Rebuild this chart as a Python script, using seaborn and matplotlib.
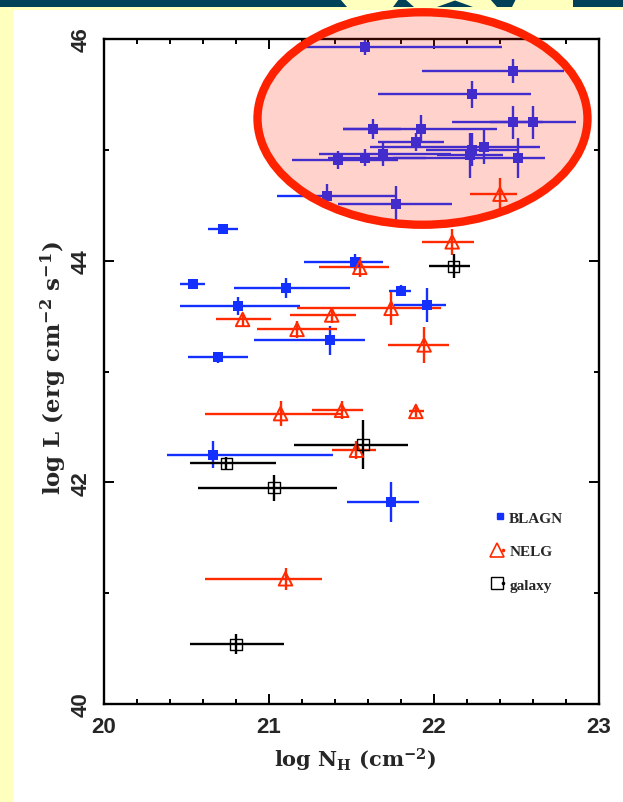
import numpy as np
import pandas as pd
import matplotlib
matplotlib.use("Agg")
import matplotlib.pyplot as plt
import seaborn as sns
from matplotlib.patches import Ellipse, Rectangle, Polygon
from matplotlib.lines import Line2D
from matplotlib.legend_handler import HandlerTuple
from matplotlib.ticker import MultipleLocator, FixedLocator

# ---------------- data ----------------
# BLAGN: log NH, lower/upper NH bounds, log L, error on log L
blagn_nh = [21.58, 22.48, 22.23, 21.63, 21.92, 22.48, 22.60, 21.89, 21.69, 21.42,
            21.58, 22.23, 22.30, 22.22, 22.51, 21.35, 21.77,
            20.72, 21.52, 20.54, 21.10, 20.81, 21.80, 21.96, 21.37, 20.69, 20.66, 21.74]
blagn_nh_lo = [21.21, 21.93, 21.66, 21.45, 21.45, 22.11, 22.34, 21.66, 21.30, 21.14,
               21.36, 21.95, 21.61, 22.02, 21.75, 21.05, 21.42,
               20.63, 21.21, 20.46, 20.79, 20.46, 21.73, 21.76, 20.91, 20.51, 20.38, 21.47]
blagn_nh_hi = [22.41, 22.79, 22.59, 21.80, 22.38, 22.66, 22.86, 22.06, 22.10, 21.78,
               21.95, 22.50, 22.64, 22.42, 22.67, 21.77, 22.11,
               20.81, 21.69, 20.61, 21.49, 21.19, 21.86, 22.07, 21.58, 20.87, 21.39, 21.91]
blagn_lum = [45.93, 45.71, 45.50, 45.19, 45.19, 45.25, 45.25, 45.07, 44.96, 44.91,
             44.93, 45.00, 45.03, 44.95, 44.93, 44.58, 44.51,
             44.29, 43.99, 43.79, 43.75, 43.59, 43.73, 43.60, 43.28, 43.13, 42.25, 41.82]
blagn_lum_err = [0.07, 0.11, 0.12, 0.09, 0.12, 0.15, 0.15, 0.08, 0.11, 0.08,
                 0.08, 0.15, 0.16, 0.20, 0.18, 0.11, 0.16,
                 0.04, 0.07, 0.03, 0.09, 0.08, 0.05, 0.15, 0.13, 0.05, 0.12, 0.18]

# NELG
nelg_nh = [22.40, 22.11, 21.55, 20.84, 21.38, 21.74, 21.17, 21.94, 21.07, 21.44, 21.89, 21.53, 21.10]
nelg_nh_lo = [22.22, 21.93, 21.30, 20.68, 21.13, 21.17, 20.93, 21.72, 20.61, 21.26, 21.85, 21.38, 20.61]
nelg_nh_hi = [22.50, 22.24, 21.73, 21.01, 21.53, 22.04, 21.41, 22.09, 21.45, 21.57, 21.94, 21.65, 21.32]
nelg_lum = [44.60, 44.17, 43.94, 43.47, 43.51, 43.57, 43.38, 43.24, 42.62, 42.65, 42.64, 42.29, 41.13]
nelg_lum_err = [0.15, 0.12, 0.09, 0.06, 0.07, 0.15, 0.08, 0.16, 0.11, 0.08, 0.05, 0.08, 0.10]

# galaxy
gal_nh = [22.12, 21.57, 20.74, 21.03, 20.80]
gal_nh_lo = [21.97, 21.15, 20.52, 20.57, 20.52]
gal_nh_hi = [22.22, 21.84, 21.04, 21.41, 21.09]
gal_lum = [43.95, 42.34, 42.17, 41.95, 40.54]
gal_lum_err = [0.11, 0.22, 0.06, 0.12, 0.09]

classes = ["BLAGN", "NELG", "galaxy"]
x_ticks = [20, 21, 22, 23]
y_ticks = [40, 42, 44, 46]

# ---------------- style ----------------
W, H = 623, 803
BLUE = "#1430FF"
RED = "#FF2A00"
ELL_RED = "#FF2200"
YELLOW = "#FFFFBE"
TEAL = "#004058"

sns.set_theme(style="ticks")
plt.rcParams["font.family"] = ["DejaVu Serif", "Liberation Serif"]
plt.rcParams["mathtext.fontset"] = "custom"
plt.rcParams["mathtext.rm"] = "DejaVu Serif:bold"
plt.rcParams["mathtext.it"] = "DejaVu Serif:bold"
plt.rcParams["mathtext.bf"] = "DejaVu Serif:bold"

fig = plt.figure(figsize=(W / 100, H / 100), dpi=100, facecolor=YELLOW)


def fx(px):
    return px / W


def fy(py):
    return 1 - py / H


# page decoration: white panel, teal banner with logo fragments
fig.add_artist(Rectangle((fx(13), 0), fx(W - 13), (H - 11) / H, transform=fig.transFigure,
                         facecolor="white", edgecolor="none", zorder=-10))
fig.add_artist(Rectangle((0, fy(8)), 1, 8 / H, transform=fig.transFigure,
                         facecolor=TEAL, edgecolor="none", zorder=-9))
logo_polys = [
    [(340, 0), (399, 0), (393, 8), (347, 8)],
    [(405, 0), (490, 0), (497, 8), (414, 8)],
    [(516, 0), (573, 0), (573, 8), (512, 8)],
]
for poly in logo_polys:
    fig.add_artist(Polygon([(fx(a), fy(b)) for a, b in poly], closed=True,
                           transform=fig.transFigure, facecolor=YELLOW,
                           edgecolor="none", zorder=-8))
fig.add_artist(Polygon([(fx(437), fy(8)), (fx(455), fy(1.5)), (fx(473), fy(8))], closed=True,
                       transform=fig.transFigure, facecolor=TEAL, edgecolor="none", zorder=-7))

ax = fig.add_axes([fx(104), fy(705), 495 / W, 665 / H])
ax.set_facecolor("white")


def frame(nh, lo, hi, lum, err, cls):
    d = pd.DataFrame({"nh": nh, "lo": lo, "hi": hi, "lum": lum, "err": err})
    d["cls"] = cls
    return d


df = pd.concat([
    frame(blagn_nh, blagn_nh_lo, blagn_nh_hi, blagn_lum, blagn_lum_err, classes[0]),
    frame(nelg_nh, nelg_nh_lo, nelg_nh_hi, nelg_lum, nelg_lum_err, classes[1]),
    frame(gal_nh, gal_nh_lo, gal_nh_hi, gal_lum, gal_lum_err, classes[2]),
], ignore_index=True)

colors = {"BLAGN": BLUE, "NELG": RED, "galaxy": "black"}
for cls in classes:
    d = df[df["cls"] == cls]
    ax.errorbar(d["nh"], d["lum"], xerr=[d["nh"] - d["lo"], d["hi"] - d["nh"]],
                yerr=d["err"], fmt="none", ecolor=colors[cls], elinewidth=1.7,
                capsize=0, zorder=2)

d = df[df["cls"] == "BLAGN"]
sns.scatterplot(data=d, x="nh", y="lum", marker="s", s=42, color=BLUE,
                edgecolor=BLUE, linewidth=0, ax=ax, zorder=3, legend=False)
d = df[df["cls"] == "NELG"]
sns.scatterplot(data=d, x="nh", y="lum", marker="^", s=95, facecolor="none",
                edgecolor=RED, linewidth=1.4, ax=ax, zorder=3, legend=False)
d = df[df["cls"] == "galaxy"]
sns.scatterplot(data=d, x="nh", y="lum", marker="s", s=64, facecolor="none",
                edgecolor="black", linewidth=1.0, ax=ax, zorder=3, legend=False)

ax.set_xlim(20, 23)
ax.set_ylim(40, 46)
ax.xaxis.set_major_locator(FixedLocator(x_ticks))
ax.xaxis.set_minor_locator(MultipleLocator(0.2))
ax.yaxis.set_major_locator(FixedLocator(y_ticks))
ax.yaxis.set_minor_locator(MultipleLocator(1))
ax.set_xticklabels([str(t) for t in x_ticks], family=["Liberation Sans", "DejaVu Sans"],
                   fontsize=16, fontweight="bold")
ax.set_yticklabels([str(t) for t in y_ticks], family=["Liberation Sans", "DejaVu Sans"],
                   fontsize=16, fontweight="bold", rotation=90, va="center")
ax.tick_params(which="major", direction="in", top=True, right=True, length=7.5,
               width=1.4, color="black", pad=9)
ax.tick_params(which="minor", direction="in", top=True, right=True, length=3.8,
               width=1.4, color="black")
for sp in ax.spines.values():
    sp.set_linewidth(1.7)
    sp.set_color("black")

ax.set_xlabel(r"log N$_{\mathrm{H}}$ (cm$^{-2}$)", fontsize=15, fontweight="bold",
              va="center", ha="center")
ax.xaxis.set_label_coords((355 - 104) / 495, (705 - 760) / 665)
ax.set_ylabel(r"log L (erg cm$^{-2}$ s$^{-1}$)", fontsize=16.5, fontweight="bold",
              va="center", ha="center")
ax.yaxis.set_label_coords((54 - 104) / 495, (705 - 368) / 665)

# legend
h_blagn = Line2D([], [], marker="s", ls="none", color=BLUE, markersize=5)
h_nelg = (Line2D([], [], marker="^", ls="none", mfc="none", mec=RED, markersize=10, mew=1.2),
          Line2D([], [], marker="o", ls="none", color=RED, markersize=1.6))
h_gal = (Line2D([], [], marker="s", ls="none", mfc="none", mec="black", markersize=8.5, mew=1.0),
         Line2D([], [], marker="o", ls="none", color="black", markersize=1.6))
ax.legend([h_blagn, h_nelg, h_gal], classes,
          handler_map={tuple: HandlerTuple(ndivide=None)},
          loc="upper left", bbox_to_anchor=((494 - 104) / 495, (705 - 512) / 665),
          frameon=False, handlelength=0.8, handletextpad=0.2, labelspacing=1.3,
          borderpad=0, borderaxespad=0,
          prop={"family": ["Liberation Serif"], "weight": "bold", "size": 11})

# highlight ellipse (figure pixel coordinates)
ecx, ecy, ew, eh = 422.5, 119.5, 330, 212.5
fig.add_artist(Ellipse((fx(ecx), fy(ecy)), ew / W, eh / H, transform=fig.transFigure,
                       facecolor=(1.0, 0.133, 0.0, 0.2), edgecolor=ELL_RED,
                       linewidth=6.0, zorder=5))

fig.savefig("out.png", dpi=100, facecolor=YELLOW)
